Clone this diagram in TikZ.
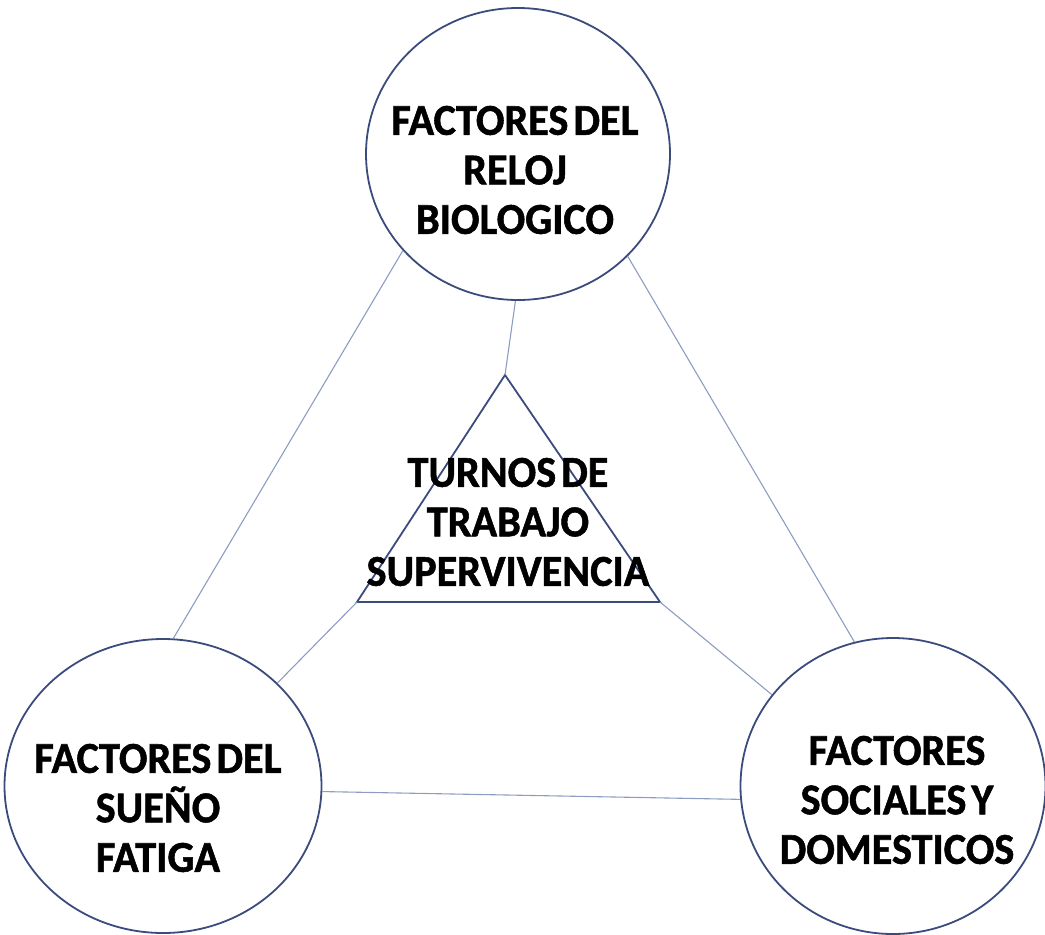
\documentclass[tikz,border=0pt]{standalone}
\usepackage{fontspec}
\setmainfont{Carlito}[BoldFeatures={FakeBold=1.2, FakeStretch=0.96}]
\usetikzlibrary{shapes.geometric}
\definecolor{ringcol}{HTML}{3B4B7C}
\definecolor{linkcol}{HTML}{8D9CC2}
\newcommand{\lblfont}{\fontsize{44}{49.5}\selectfont\bfseries\spaceskip=5pt plus 2pt\relax}
\tikzset{
  ring/.style={draw=ringcol, line width=1.8pt, ellipse, inner sep=0pt},
  tri/.style={draw=ringcol, line width=1.8pt, line join=miter},
  link/.style={draw=linkcol, line width=1.1pt},
  lbl/.style={font=\lblfont, align=center, text=black, inner sep=0pt}
}
\begin{document}
\begin{tikzpicture}[x=1pt,y=-1pt]
\useasboundingbox (0,0) rectangle (1045,935);
% circles
\node[ring, minimum width=304pt, minimum height=292pt] (top) at (518,154) {};
\node[ring, minimum width=317pt, minimum height=294pt] (bl) at (163,786) {};
\node[ring, minimum width=305pt, minimum height=296pt] (br) at (893,786) {};
% triangle
\coordinate (ta) at (505,375);
\coordinate (tl) at (357,602);
\coordinate (tr) at (660,602);
\draw[tri] (ta) -- (tl) -- (tr) -- cycle;
% links
\draw[link] (top.-140) -- (bl.86);
\draw[link] (top.-43) -- (br.105);
\draw[link] (bl.-2.5) -- (br.-175);
\draw[link] (top.-91.5) -- (ta);
\draw[link] (tl) -- (bl.42.6);
\draw[link] (tr) -- (br.143.5);
% labels
\node[lbl] (ttop) at (515,170) {FACTORES DEL\\RELOJ\\BIOLOGICO};
\node[lbl] (tbl) at (158,808) {FACTORES DEL\\SUEÑO\\FATIGA};
\node[lbl] (tbr) at (897,800) {FACTORES\\SOCIALES Y\\DOMESTICOS};
\node[lbl] (tmid) at (508,522) {TURNOS DE\\TRABAJO\\SUPERVIVENCIA};
\end{tikzpicture}
\end{document}
